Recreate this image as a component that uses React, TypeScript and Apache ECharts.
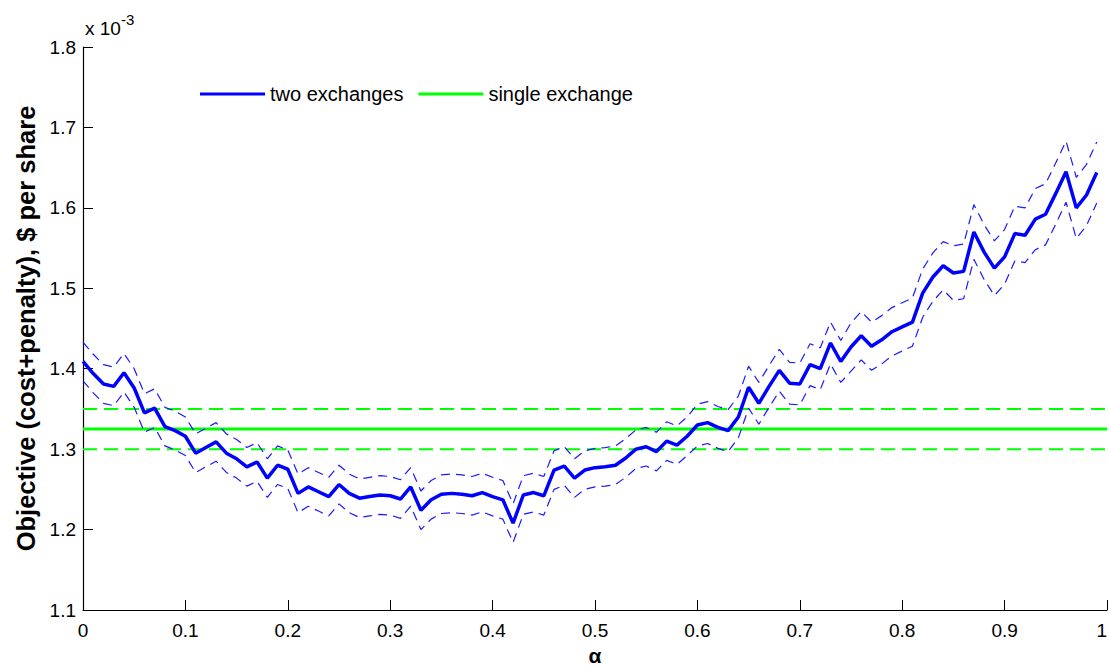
import React, { useEffect, useRef } from "react";
import * as echarts from "echarts";

// alpha grid (x values)
const alphas: number[] = [
  0, 0.01, 0.02, 0.03, 0.04, 0.05, 0.06, 0.07, 0.08, 0.09,
  0.1, 0.11, 0.12, 0.13, 0.14, 0.15, 0.16, 0.17, 0.18, 0.19,
  0.2, 0.21, 0.22, 0.23, 0.24, 0.25, 0.26, 0.27, 0.28, 0.29,
  0.3, 0.31, 0.32, 0.33, 0.34, 0.35, 0.36, 0.37, 0.38, 0.39,
  0.4, 0.41, 0.42, 0.43, 0.44, 0.45, 0.46, 0.47, 0.48, 0.49,
  0.5, 0.51, 0.52, 0.53, 0.54, 0.55, 0.56, 0.57, 0.58, 0.59,
  0.6, 0.61, 0.62, 0.63, 0.64, 0.65, 0.66, 0.67, 0.68, 0.69,
  0.7, 0.71, 0.72, 0.73, 0.74, 0.75, 0.76, 0.77, 0.78, 0.79,
  0.8, 0.81, 0.82, 0.83, 0.84, 0.85, 0.86, 0.87, 0.88, 0.89,
  0.9, 0.91, 0.92, 0.93, 0.94, 0.95, 0.96, 0.97, 0.98, 0.99,
];

// two exchanges: mean objective (x 1e-3)
const twoExchanges: number[] = [
  1.409, 1.394, 1.381, 1.378, 1.395, 1.376, 1.345, 1.351, 1.328, 1.323,
  1.316, 1.295, 1.302, 1.309, 1.295, 1.288, 1.278, 1.284, 1.264, 1.28,
  1.275, 1.245, 1.253, 1.247, 1.241, 1.256, 1.245, 1.239, 1.241, 1.243,
  1.242, 1.238, 1.253, 1.224, 1.237, 1.244, 1.245, 1.244, 1.242, 1.246,
  1.241, 1.237, 1.208, 1.243, 1.246, 1.242, 1.274, 1.279, 1.264, 1.274,
  1.277, 1.278, 1.28, 1.289, 1.3, 1.303, 1.297, 1.31, 1.305, 1.316,
  1.33, 1.333, 1.327, 1.323, 1.34, 1.377, 1.357, 1.378, 1.398, 1.382,
  1.381, 1.405, 1.4, 1.432, 1.409, 1.427, 1.441, 1.428, 1.436, 1.446,
  1.452, 1.458, 1.494, 1.514, 1.528, 1.519, 1.521, 1.57, 1.545, 1.525,
  1.539, 1.568, 1.566, 1.586, 1.592, 1.618, 1.645, 1.6, 1.616, 1.644,
];

// two exchanges: upper confidence band
const twoUpper: number[] = [
  1.433, 1.418, 1.405, 1.402, 1.419, 1.4, 1.369, 1.375, 1.352, 1.347,
  1.34, 1.319, 1.326, 1.333, 1.319, 1.312, 1.302, 1.308, 1.288, 1.304,
  1.299, 1.269, 1.277, 1.271, 1.265, 1.28, 1.269, 1.263, 1.265, 1.267,
  1.266, 1.262, 1.277, 1.248, 1.261, 1.268, 1.269, 1.268, 1.266, 1.27,
  1.265, 1.261, 1.232, 1.267, 1.27, 1.266, 1.298, 1.303, 1.288, 1.298,
  1.301, 1.302, 1.304, 1.313, 1.324, 1.327, 1.321, 1.334, 1.329, 1.34,
  1.356, 1.359, 1.353, 1.349, 1.366, 1.403, 1.383, 1.404, 1.424, 1.408,
  1.407, 1.431, 1.426, 1.458, 1.435, 1.457, 1.471, 1.458, 1.466, 1.476,
  1.482, 1.488, 1.524, 1.544, 1.558, 1.553, 1.555, 1.604, 1.579, 1.559,
  1.573, 1.602, 1.6, 1.624, 1.63, 1.656, 1.683, 1.638, 1.654, 1.682,
];

// two exchanges: lower confidence band
const twoLower: number[] = [
  1.385, 1.37, 1.357, 1.354, 1.371, 1.352, 1.321, 1.327, 1.304, 1.299,
  1.292, 1.271, 1.278, 1.285, 1.271, 1.264, 1.254, 1.26, 1.24, 1.256,
  1.251, 1.221, 1.229, 1.223, 1.217, 1.232, 1.221, 1.215, 1.217, 1.219,
  1.218, 1.214, 1.229, 1.2, 1.213, 1.22, 1.221, 1.22, 1.218, 1.222,
  1.217, 1.213, 1.184, 1.219, 1.222, 1.218, 1.25, 1.255, 1.24, 1.25,
  1.253, 1.254, 1.256, 1.265, 1.276, 1.279, 1.273, 1.286, 1.281, 1.292,
  1.304, 1.307, 1.301, 1.297, 1.314, 1.351, 1.331, 1.352, 1.372, 1.356,
  1.355, 1.379, 1.374, 1.406, 1.383, 1.397, 1.411, 1.398, 1.406, 1.416,
  1.422, 1.428, 1.464, 1.484, 1.498, 1.485, 1.487, 1.536, 1.511, 1.491,
  1.505, 1.534, 1.532, 1.548, 1.554, 1.58, 1.607, 1.562, 1.578, 1.606,
];

// single exchange: constant objective and its band (x 1e-3)
const singleRange: number[] = [0, 1];
const singleValue = 1.325;
const singleUpper = 1.35;
const singleLower = 1.3;

const xTicks: string[] = ["0", "0.1", "0.2", "0.3", "0.4", "0.5", "0.6", "0.7", "0.8", "0.9", "1"];

const FONT = "Liberation Sans";

export default function App() {
  const ref = useRef<HTMLDivElement>(null);

  useEffect(() => {
    if (!ref.current) return;
    const chart = echarts.init(ref.current, undefined, { renderer: "svg" });

    const pairs = (ys: number[]) => alphas.map((a, i) => [a, ys[i]]);
    const flat = (v: number) => singleRange.map((a) => [a, v]);

    const option: any = {
      animation: false,
      backgroundColor: "#ffffff",
      grid: {
        left: 83,
        top: 47,
        right: 2,
        bottom: 56,
        containLabel: false,
        outerBoundsMode: "none",
      },
      legend: {
        data: ["two exchanges", "single exchange"],
        left: 195,
        top: 79,
        icon: "rect",
        itemWidth: 65,
        itemHeight: 3,
        itemGap: 15,
        textStyle: { fontSize: 20, color: "#000", fontFamily: FONT },
      },
      xAxis: {
        type: "value",
        min: 0,
        max: 1,
        interval: 0.1,
        name: "α",
        nameLocation: "middle",
        nameGap: 28,
        nameTextStyle: { fontSize: 21, fontWeight: "bold", color: "#000", fontFamily: FONT },
        axisLine: { lineStyle: { color: "#000", width: 1.2 } },
        axisTick: { inside: true, length: 10, lineStyle: { color: "#000" } },
        axisLabel: {
          color: "#000",
          fontSize: 19,
          fontFamily: FONT,
          margin: 11,
          alignMaxLabel: "right",
          formatter: (v: number) => xTicks[Math.round(v * 10)] ?? "",
        },
        splitLine: { show: false },
      },
      yAxis: {
        type: "value",
        min: 1.1,
        max: 1.8,
        interval: 0.1,
        name: "Objective (cost+penalty), $ per share",
        nameLocation: "middle",
        nameGap: 44,
        nameTextStyle: { fontSize: 25.5, fontWeight: "bold", color: "#000", fontFamily: FONT },
        axisLine: { show: true, lineStyle: { color: "#000", width: 1.2 } },
        axisTick: { show: true, inside: true, length: 10, lineStyle: { color: "#000" } },
        axisLabel: {
          color: "#000",
          fontSize: 19,
          fontFamily: FONT,
          margin: 7,
          formatter: (v: number) => v.toFixed(1),
        },
        splitLine: { show: false },
      },
      graphic: [
        {
          type: "text",
          x: 85,
          y: 28,
          style: { text: "x 10", font: `19px "${FONT}"`, fill: "#000", verticalAlign: "middle" },
        },
        {
          type: "text",
          x: 121,
          y: 19,
          style: { text: "-3", font: `15px "${FONT}"`, fill: "#000", verticalAlign: "middle" },
        },
      ],
      series: [
        {
          name: "single exchange",
          type: "line",
          data: flat(singleValue),
          symbol: "none",
          z: 2,
          lineStyle: { color: "#00ff00", width: 3 },
          itemStyle: { color: "#00ff00" },
        },
        {
          name: "single upper",
          type: "line",
          data: flat(singleUpper),
          symbol: "none",
          z: 2,
          lineStyle: { color: "#00ff00", width: 2, type: [14, 7] },
          silent: true,
        },
        {
          name: "single lower",
          type: "line",
          data: flat(singleLower),
          symbol: "none",
          z: 2,
          lineStyle: { color: "#00ff00", width: 2, type: [14, 7] },
          silent: true,
        },
        {
          name: "two upper",
          type: "line",
          data: pairs(twoUpper),
          symbol: "none",
          z: 3,
          lineStyle: { color: "#1a1aff", width: 1.2, type: [9, 6] },
          silent: true,
        },
        {
          name: "two lower",
          type: "line",
          data: pairs(twoLower),
          symbol: "none",
          z: 3,
          lineStyle: { color: "#1a1aff", width: 1.2, type: [9, 6] },
          silent: true,
        },
        {
          name: "two exchanges",
          type: "line",
          data: pairs(twoExchanges),
          symbol: "none",
          z: 4,
          lineStyle: { color: "#0000ff", width: 3.5 },
          itemStyle: { color: "#0000ff" },
        },
      ],
    };

    chart.setOption(option);
    return () => chart.dispose();
  }, []);

  return (
    <div
      ref={ref}
      style={{ position: "fixed", left: 0, top: 0, width: 1109, height: 666, background: "#fff" }}
    />
  );
}
